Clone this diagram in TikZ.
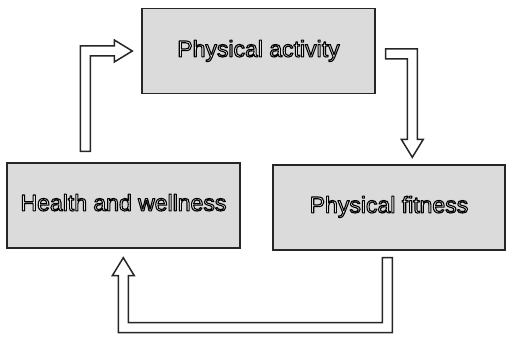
\documentclass[tikz,border=0pt]{standalone}
\usepackage{fontspec}
\setmainfont{Liberation Sans}
\usetikzlibrary{calc}
\newcommand{\outlinetext}[1]{\special{pdf:code q}{\color{white}\special{pdf:code 0 G 2 Tr 1.1 w 1 j}#1}\special{pdf:code Q}}
\begin{document}
\begin{tikzpicture}[x=1pt,y=-1pt,
  box/.style={draw=black!85,line width=1.4pt,fill=black!14,minimum width=233pt,minimum height=85pt,inner sep=0pt,
    font=\fontsize{23}{26}\selectfont},
  blockarrow/.style={draw=black!85,line width=1.5pt,fill=white,line join=miter}]
\useasboundingbox (0,0) rectangle (507,339);
\node[box] (pa) at (258.5,51) {\raisebox{5pt}{\outlinetext{Physical activity}}};
\node[box] (hw) at (123.5,205.5) {\raisebox{6pt}{\outlinetext{Health and wellness}}};
\node[box,minimum width=232pt] (pf) at (389,207.5) {\raisebox{6pt}{\outlinetext{Physical fitness}}};
% arrow 1: health -> activity
\coordinate (s1) at ($(hw.north west)+(79,-11)$);
\coordinate (t1) at ($(pa.west)+(-9,0)$);
\coordinate (c1) at (s1 |- t1);
\draw[blockarrow] ($(s1)+(-5,0)$) -- ($(c1)+(-5,-5)$) -- ($(t1)+(-18,-5)$) -- ($(t1)+(-18,-11)$) -- (t1)
  -- ($(t1)+(-18,11)$) -- ($(t1)+(-18,5)$) -- ($(c1)+(5,5)$) -- ($(s1)+(5,0)$) -- cycle;
% arrow 2: activity -> fitness
\coordinate (s2) at ($(pa.east)+(10,3)$);
\coordinate (t2) at ($(pf.north west)+(140,-7)$);
\coordinate (c2) at (t2 |- s2);
\draw[blockarrow] ($(s2)+(0,-5)$) -- ($(c2)+(5,-5)$) -- ($(t2)+(5,-18)$) -- ($(t2)+(11,-18)$) -- (t2)
  -- ($(t2)+(-11,-18)$) -- ($(t2)+(-5,-18)$) -- ($(c2)+(-5,5)$) -- ($(s2)+(0,5)$) -- cycle;
% arrow 3: fitness -> health
\coordinate (s3) at ($(pf.south west)+(115,7)$);
\coordinate (t3) at ($(hw.south west)+(117,9)$);
\coordinate (c3a) at ($(s3)+(0,70)$);
\coordinate (c3b) at (t3 |- c3a);
\draw[blockarrow] ($(s3)+(-5,0)$) -- ($(c3a)+(-5,-5)$) -- ($(c3b)+(5,-5)$) -- ($(t3)+(5,18)$) -- ($(t3)+(11,18)$) -- (t3)
  -- ($(t3)+(-11,18)$) -- ($(t3)+(-5,18)$) -- ($(c3b)+(-5,5)$) -- ($(c3a)+(5,5)$) -- ($(s3)+(5,0)$) -- cycle;
\end{tikzpicture}
\end{document}
